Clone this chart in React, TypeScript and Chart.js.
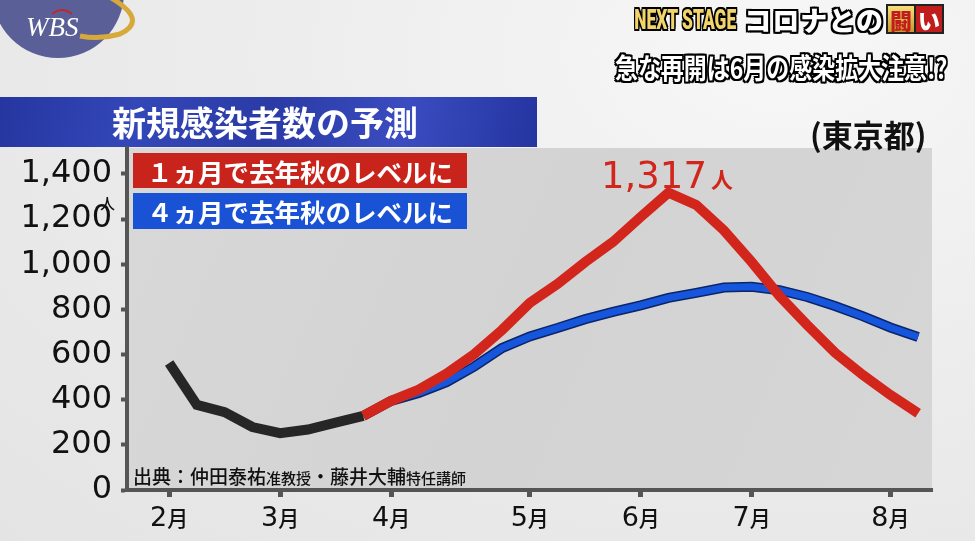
import React, { useEffect, useRef } from 'react';
import { Chart, registerables } from 'chart.js';

Chart.register(...registerables);

// ---- data ----
const monthLabels = ['2月', '3月', '4月', '5月', '6月', '7月', '8月'];
const monthWeeks = [0, 4, 8, 13, 17, 21, 26];
const yTickValues = [0, 200, 400, 600, 800, 1000, 1200, 1400];

const histWeeks = [0, 1, 2, 3, 4, 5, 6, 7];
const histValues = [563, 377, 345, 279, 252, 268, 298, 328];

const projWeeks = [7, 8, 9, 10, 11, 12, 13, 14, 15, 16, 17, 18, 19, 20, 21, 22, 23, 24, 25, 26, 27];
const oneMonthValues = [328, 395, 445, 516, 602, 709, 829, 913, 1010, 1099, 1210, 1317, 1263, 1150, 1010, 860, 731, 609, 510, 421, 340];
const fourMonthValues = [328, 395, 430, 478, 547, 629, 680, 718, 757, 789, 818, 851, 873, 897, 900, 885, 855, 815, 770, 720, 678];

const oneMonthLabel = '１ヵ月で去年秋のレベルに';
const fourMonthLabel = '４ヵ月で去年秋のレベルに';
const peakLabel = '1,317';

const toXY = (xs: number[], ys: number[]) => xs.map((x, i) => ({ x, y: ys[i] }));

const JP = '"Noto Sans CJK JP", "Noto Sans", sans-serif';
const NUM = '"DejaVu Sans", sans-serif';

const outline = (c: string, w: number) =>
  [
    `${w}px 0 ${c}`, `-${w}px 0 ${c}`, `0 ${w}px ${c}`, `0 -${w}px ${c}`,
    `${w}px ${w}px ${c}`, `-${w}px -${w}px ${c}`, `${w}px -${w}px ${c}`, `-${w}px ${w}px ${c}`,
  ].join(',');

const bgPlugin = {
  id: 'plotBg',
  beforeDraw(chart: any) {
    const { ctx, chartArea } = chart;
    ctx.save();
    const g = ctx.createLinearGradient(chartArea.left, chartArea.top, chartArea.right, chartArea.bottom);
    g.addColorStop(0, '#d8d8d8');
    g.addColorStop(0.5, '#d3d3d3');
    g.addColorStop(1, '#d6d6d6');
    ctx.fillStyle = g;
    ctx.fillRect(chartArea.left, chartArea.top, chartArea.right - chartArea.left, chartArea.bottom - chartArea.top);
    ctx.restore();
  },
};

const monthLabelPlugin = {
  id: 'monthLabels',
  afterDraw(chart: any) {
    const ctx = chart.ctx;
    const xs = chart.scales.x;
    const base = xs.top + 36;
    monthLabels.forEach((lab, i) => {
      const px = xs.getPixelForValue(monthWeeks[i]);
      const num = lab.slice(0, -1);
      const unit = lab.slice(-1);
      ctx.save();
      ctx.fillStyle = '#111';
      ctx.textAlign = 'left';
      ctx.textBaseline = 'alphabetic';
      ctx.font = `27px ${NUM}`;
      const w1 = ctx.measureText(num).width;
      ctx.font = `500 21px ${JP}`;
      const w2 = ctx.measureText(unit).width;
      const x0 = px - (w1 + w2) / 2;
      ctx.font = `27px ${NUM}`;
      ctx.fillText(num, x0, base);
      ctx.font = `500 21px ${JP}`;
      ctx.fillText(unit, x0 + w1, base);
      ctx.restore();
    });
  },
};

function ChartCanvas() {
  const ref = useRef<HTMLCanvasElement | null>(null);
  useEffect(() => {
    if (!ref.current) return;
    const common = {
      pointRadius: 0,
      pointHoverRadius: 0,
      tension: 0,
      fill: false,
      borderCapStyle: 'butt' as const,
      borderJoinStyle: 'miter' as const,
    };
    const chart = new Chart(ref.current, {
      type: 'line',
      data: {
        datasets: [
          { ...common, label: oneMonthLabel, data: toXY(projWeeks, oneMonthValues), borderColor: '#d2261c', borderWidth: 10, order: 0 },
          { ...common, label: '実績', data: toXY(histWeeks, histValues), borderColor: '#262626', borderWidth: 10, order: 1 },
          { ...common, label: fourMonthLabel, data: toXY(projWeeks, fourMonthValues), borderColor: '#1656dc', borderWidth: 7, order: 2 },
          { ...common, label: '_outline', data: toXY(projWeeks, fourMonthValues), borderColor: '#0c2468', borderWidth: 10, order: 3 },
        ],
      },
      options: {
        animation: false,
        responsive: false,
        events: [],
        layout: { padding: { top: 148, right: 43, left: 0, bottom: 0 } },
        plugins: { legend: { display: false }, tooltip: { enabled: false } },
        scales: {
          x: {
            type: 'linear',
            min: -1.52,
            max: 27.5,
            afterBuildTicks: (s: any) => {
              s.ticks = monthWeeks.map((v) => ({ value: v }));
            },
            afterFit: (s: any) => {
              s.height = 51;
            },
            ticks: { color: 'rgba(0,0,0,0)', font: { size: 20 }, callback: () => '' },
            grid: { drawOnChartArea: false, drawTicks: true, tickLength: 7, tickWidth: 5, tickColor: '#555', color: '#555' },
            border: { display: true, color: '#555', width: 4 },
          },
          y: {
            type: 'linear',
            min: 0,
            max: 1515,
            afterBuildTicks: (s: any) => {
              s.ticks = yTickValues.map((v) => ({ value: v }));
            },
            afterFit: (s: any) => {
              s.width = 127;
            },
            ticks: {
              color: '#111',
              padding: 9,
              font: { family: NUM, size: 32 },
              callback: (v: any) => Number(v).toLocaleString('en-US'),
            },
            grid: { drawOnChartArea: false, drawTicks: true, tickLength: 6, tickWidth: 4, tickColor: '#555', color: '#555' },
            border: { display: true, color: '#555', width: 4 },
          },
        },
      },
      plugins: [bgPlugin, monthLabelPlugin],
    });
    return () => chart.destroy();
  }, []);
  return <canvas ref={ref} width={975} height={541} style={{ position: 'absolute', left: 0, top: 0, display: 'block' }} />;
}

const legendBox = (bg: string, top: number, h: number): React.CSSProperties => ({
  position: 'absolute',
  left: 133,
  top,
  width: 334,
  height: h,
  background: bg,
  color: '#fff',
  fontWeight: 700,
  fontSize: 25.5,
  lineHeight: `${h}px`,
  paddingLeft: 14,
  boxSizing: 'border-box',
  whiteSpace: 'nowrap',
  overflow: 'hidden',
});

export default function App() {
  return (
    <div
      style={{
        position: 'fixed',
        left: 0,
        top: 0,
        width: 975,
        height: 541,
        overflow: 'hidden',
        background: 'radial-gradient(ellipse at 80% 10%, #f7f7f7 0%, #ececec 50%, #e4e4e4 100%)',
        fontFamily: JP,
      }}
    >
      {/* logo */}
      <svg width={160} height={70} style={{ position: 'absolute', left: 0, top: 0 }}>
        <circle cx={58} cy={-8} r={66} fill="#5b5f98" />
        <path d="M 108 -4 Q 150 20 120 34 Q 100 40 80 36" stroke="#d6a93a" strokeWidth={5} fill="none" />
        <path d="M 52 14 Q 62 6 72 14" stroke="#c0262a" strokeWidth={2} fill="none" />
        <text x={26} y={36} fill="#fff" fontFamily='"Liberation Serif", serif' fontStyle="italic" fontSize={27}>
          WBS
        </text>
      </svg>

      {/* header right */}
      <div style={{ position: 'absolute', right: 31, top: 3, height: 32, display: 'flex', alignItems: 'center', whiteSpace: 'nowrap' }}>
        <span
          style={{
            display: 'inline-block',
            fontFamily: 'Roboto, sans-serif',
            fontWeight: 900,
            fontSize: 28,
            color: '#f2d46a',
            textShadow: outline('#000', 2),
            transform: 'scaleX(0.62)',
            transformOrigin: 'right center',
            marginRight: 8,
            marginLeft: -60,
          }}
        >
          NEXT STAGE
        </span>
        <span style={{ fontWeight: 900, fontSize: 27, color: '#fff', textShadow: outline('#000', 2), letterSpacing: 1 }}>コロナとの</span>
        <span
          style={{
            display: 'inline-flex',
            marginLeft: 2,
            border: '2px solid #222',
            background: 'linear-gradient(#f6df7a, #c9972a)',
          }}
        >
          <span style={{ fontWeight: 900, fontSize: 22, color: '#c21d1d', padding: '0 2px', lineHeight: '26px', borderRight: '2px solid #222' }}>闘</span>
          <span style={{ fontWeight: 900, fontSize: 22, color: '#fff', background: '#c21d1d', padding: '0 2px', lineHeight: '26px' }}>い</span>
        </span>
      </div>
      <div
        style={{
          position: 'absolute',
          right: 28,
          top: 47,
          fontWeight: 700,
          fontSize: 28,
          color: '#fff',
          textShadow: outline('#000', 2),
          whiteSpace: 'nowrap',
          transform: 'scaleX(0.82)',
          transformOrigin: 'right center',
        }}
      >
        急な再開は6月の感染拡大注意!?
      </div>

      {/* title banner */}
      <div
        style={{
          position: 'absolute',
          left: 0,
          top: 97,
          width: 537,
          height: 50,
          background: 'linear-gradient(100deg, #2536a0 0%, #3447b8 25%, #2a3ba6 50%, #3a4cc0 75%, #2434a0 100%)',
        }}
      />
      <div
        style={{
          position: 'absolute',
          left: 112,
          top: 97,
          height: 50,
          lineHeight: '50px',
          fontWeight: 700,
          fontSize: 34,
          color: '#fff',
          whiteSpace: 'nowrap',
        }}
      >
        新規感染者数の予測
      </div>

      <ChartCanvas />

      <div style={{ position: 'absolute', left: 810, top: 116, height: 36, lineHeight: '36px', fontWeight: 700, fontSize: 31, color: '#111', whiteSpace: 'nowrap' }}>
        (東京都)
      </div>

      {/* y unit */}
      <div style={{ position: 'absolute', left: 100, top: 192, fontSize: 15, color: '#111', fontWeight: 500 }}>人</div>

      {/* legend boxes */}
      <div style={legendBox('#c9241b', 153, 35)}>{oneMonthLabel}</div>
      <div style={legendBox('#1a52d6', 193, 36)}>{fourMonthLabel}</div>

      {/* peak annotation */}
      <div style={{ position: 'absolute', left: 601, top: 154, color: '#d2261c', whiteSpace: 'nowrap' }}>
        <span style={{ fontFamily: NUM, fontSize: 37 }}>{peakLabel}</span>
        <span style={{ fontSize: 22, fontWeight: 700, marginLeft: 4 }}>人</span>
      </div>

      {/* source */}
      <div style={{ position: 'absolute', left: 133, top: 462, color: '#111', fontWeight: 500, whiteSpace: 'nowrap' }}>
        <span style={{ fontSize: 19 }}>出典：仲田泰祐</span>
        <span style={{ fontSize: 15 }}>准教授</span>
        <span style={{ fontSize: 19 }}>・藤井大輔</span>
        <span style={{ fontSize: 15 }}>特任講師</span>
      </div>
    </div>
  );
}
